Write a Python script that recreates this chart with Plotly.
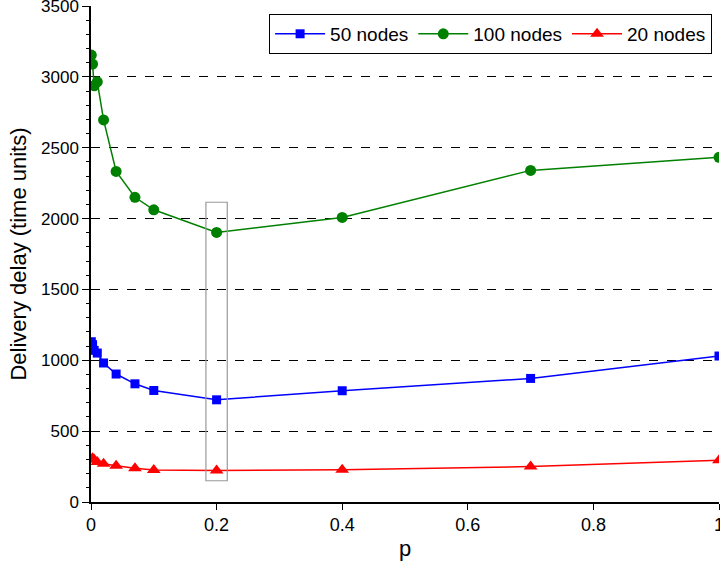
import plotly.graph_objects as go

p_vals = [0.0005, 0.0025, 0.005, 0.01, 0.02, 0.04, 0.07, 0.1, 0.2, 0.4, 0.7, 1.0]
nodes50 = [1131, 1110, 1070, 1051, 981, 903, 834, 787, 721, 785, 872, 1030]
nodes100 = [3154, 3090, 2937, 2965, 2696, 2333, 2150, 2062, 1902, 2008, 2340, 2432]
nodes20 = [300, 308, 300, 282, 270, 255, 238, 225, 222, 228, 250, 295]
x_ticks = [0, 0.2, 0.4, 0.6, 0.8, 1.0]
x_labels = ["0", "0.2", "0.4", "0.6", "0.8", "1"]

series = [
    ("50 nodes", nodes50, "#0000ff", "square", 9),
    ("100 nodes", nodes100, "#008000", "circle", 11),
    ("20 nodes", nodes20, "#ff0000", "triangle-up", 12),
]

highlight_x = [0.183, 0.217]
highlight_y = [150, 2115]

fig = go.Figure()
for name, vals, color, sym, size in series:
    fig.add_trace(go.Scatter(
        x=p_vals, y=vals, name=name, mode="lines+markers",
        line=dict(color=color, width=1.5),
        marker=dict(symbol=sym, size=size, color=color),
    ))

fig.add_shape(type="rect", xref="x", yref="y",
              x0=highlight_x[0], x1=highlight_x[1],
              y0=highlight_y[0], y1=highlight_y[1],
              line=dict(color="#999999", width=1.2), fillcolor="rgba(0,0,0,0)")

fig.update_layout(
    width=720, height=563,
    margin=dict(l=91, r=1, t=6, b=61, autoexpand=False),
    paper_bgcolor="white", plot_bgcolor="white",
    font=dict(family="Liberation Sans", size=18, color="black"),
    legend=dict(orientation="h", x=0.989, xanchor="right", y=0.984, yanchor="top",
                bordercolor="black", borderwidth=1, bgcolor="white",
                font=dict(size=19), itemwidth=50, tracegroupgap=0),
    showlegend=True,
)
fig.update_xaxes(range=[0, 1], tickvals=x_ticks, ticktext=x_labels,
                 showline=True, linecolor="black", linewidth=1.5,
                 ticks="outside", ticklen=6, tickcolor="black",
                 showgrid=False, zeroline=False, automargin=False,
                 ticklabeloverflow="allow",
                 title=dict(text="p", standoff=6))
fig.update_yaxes(range=[0, 3500], dtick=500,
                 showline=True, linecolor="black", linewidth=1.5,
                 ticks="outside", ticklen=7, tickcolor="black",
                 tickfont=dict(size=17),
                 minor=dict(dtick=100, ticks="outside", ticklen=3, tickcolor="black", showgrid=False),
                 showgrid=True, gridcolor="black", griddash="dash", gridwidth=1,
                 zeroline=False, automargin=False,
                 ticklabeloverflow="allow",
                 title=dict(text="Delivery delay (time units)", standoff=8))

fig.write_html("out.html", config={"displayModeBar": False},
               post_script="document.body.style.margin='0';")
